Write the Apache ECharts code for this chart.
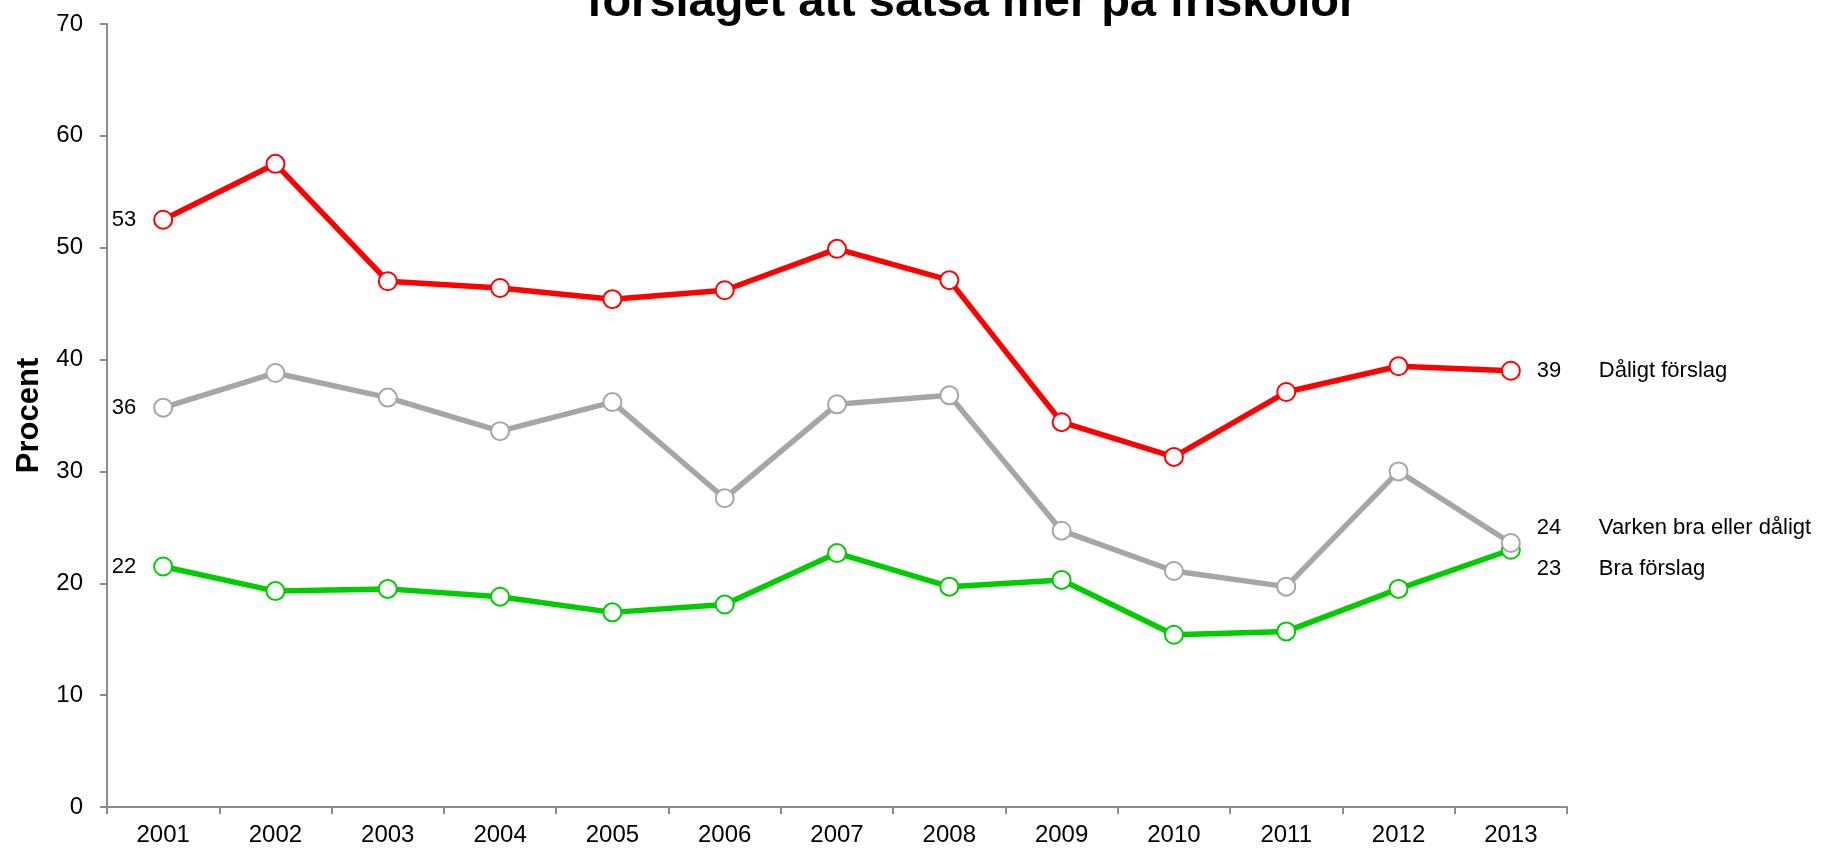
<!DOCTYPE html>
<html>
<head>
<meta charset="utf-8">
<script src="https://cdn.jsdelivr.net/npm/echarts@6/dist/echarts.min.js"></script>
<style>
  html, body { margin: 0; padding: 0; background: #fff; }
  #chart { width: 1834px; height: 851px; }
</style>
</head>
<body>
<div id="chart"></div>
<script>
const years = ['2001', '2002', '2003', '2004', '2005', '2006', '2007', '2008', '2009', '2010', '2011', '2012', '2013']
const daligt = [52.5, 57.5, 47.0, 46.4, 45.4, 46.2, 49.9, 47.1, 34.4, 31.3, 37.1, 39.4, 39.0]
const varken = [35.7, 38.8, 36.6, 33.6, 36.2, 27.6, 36.0, 36.8, 24.7, 21.1, 19.7, 30.0, 23.6]
const bra = [21.5, 19.3, 19.5, 18.8, 17.4, 18.1, 22.7, 19.7, 20.3, 15.4, 15.7, 19.5, 23.0]

const font = 'Arial, "Liberation Sans", sans-serif'

// första och sista punkten får etiketter
function points(values, name, endOffset) {
  return values.map((v, i) => {
    if (i === 0) {
      return {
        value: v,
        label: {
          show: true, position: 'left', distance: 17,
          formatter: String(Math.round(v)),
          color: '#000', fontSize: 22, fontFamily: font
        }
      }
    }
    if (i === values.length - 1) {
      return {
        value: v,
        label: {
          show: true, position: 'right', distance: 16, offset: [0, endOffset],
          formatter: '{v|' + Math.round(v) + '}{n|' + name + '}',
          rich: {
            v: { width: 62, color: '#000', fontSize: 22, fontFamily: font },
            n: { color: '#000', fontSize: 22, fontFamily: font }
          }
        }
      }
    }
    return v
  })
}

function line(name, values, color, endOffset) {
  return {
    name: name,
    type: 'line',
    data: points(values, name, endOffset),
    symbol: 'circle',
    symbolSize: 18,
    showAllSymbol: true,
    lineStyle: { color: color, width: 5.5 },
    itemStyle: { color: '#fff', borderColor: color, borderWidth: 2 },
    emphasis: { disabled: true },
    animation: false
  }
}

const chart = echarts.init(document.getElementById('chart'))
chart.setOption({
  backgroundColor: '#fff',
  graphic: [{
    type: 'text',
    x: 972,
    y: 3,
    style: {
      text: 'förslaget att satsa mer på friskolor',
      fontSize: 47, fontWeight: 'bold', fontFamily: font, fill: '#000',
      textAlign: 'center', textVerticalAlign: 'middle'
    }
  }],
  grid: { left: 107, right: 267, top: 24, bottom: 44 },
  xAxis: {
    type: 'category',
    data: years,
    boundaryGap: true,
    axisLine: { lineStyle: { color: '#8c8c8c', width: 2 } },
    axisTick: { show: true, length: 7, lineStyle: { color: '#8c8c8c', width: 2 } },
    axisLabel: { color: '#000', fontSize: 24, fontFamily: font, margin: 16 }
  },
  yAxis: {
    type: 'value',
    min: 0, max: 70, interval: 10,
    name: 'Procent',
    nameLocation: 'middle',
    nameRotate: 90,
    nameGap: 58,
    nameTextStyle: { color: '#000', fontSize: 31, fontWeight: 'bold', fontFamily: font },
    axisLine: { show: true, lineStyle: { color: '#8c8c8c', width: 2 } },
    axisTick: { show: true, length: 7, lineStyle: { color: '#8c8c8c', width: 2 } },
    axisLabel: { color: '#000', fontSize: 24, fontFamily: font, margin: 24 },
    splitLine: { show: false }
  },
  series: [
    line('Dåligt förslag', daligt, '#ff0000', 0),
    line('Bra förslag', bra, '#00cc00', 19),
    line('Varken bra eller dåligt', varken, '#a6a6a6', -15)
  ]
})
</script>
</body>
</html>
